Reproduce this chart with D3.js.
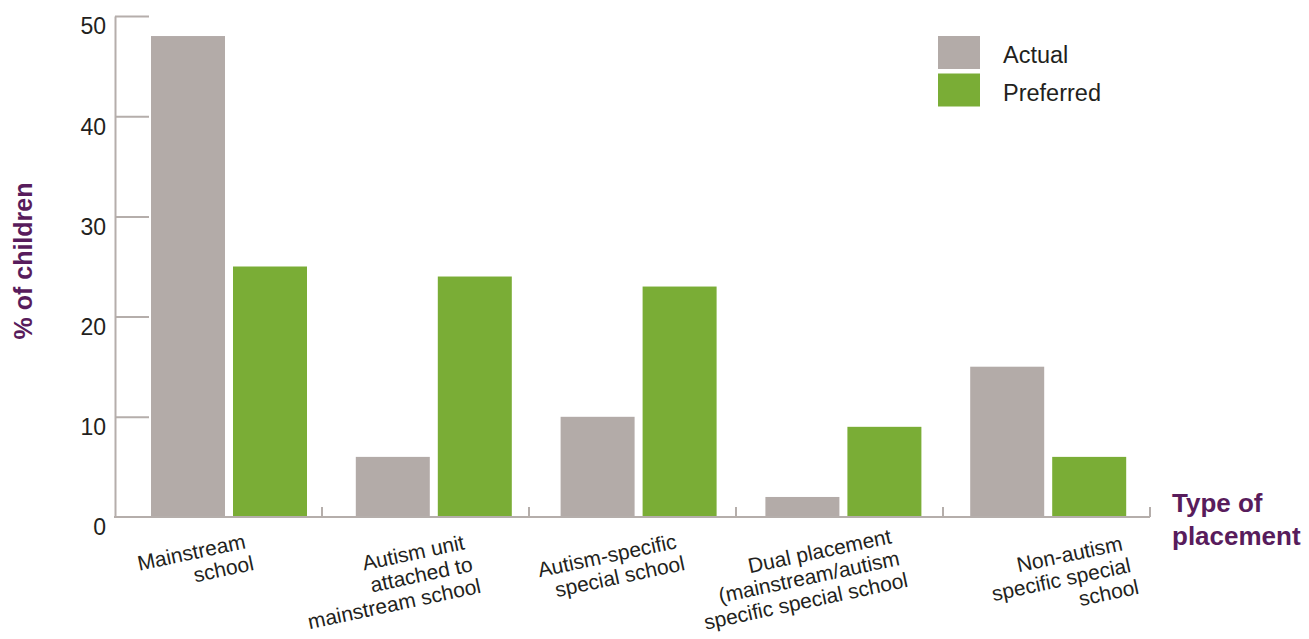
<!DOCTYPE html>
<html>
<head>
<meta charset="utf-8">
<script src="https://cdn.jsdelivr.net/npm/d3@7"></script>
<style>
  html, body { margin: 0; padding: 0; background: #ffffff; }
  svg { display: block; }
  text { font-family: "Liberation Sans", Arial, Helvetica, sans-serif; }
</style>
</head>
<body>
<svg id="chart" width="1309" height="639"></svg>
<script>
// ---- data ----
const categories = [
  "Mainstream school",
  "Autism unit attached to mainstream school",
  "Autism-specific special school",
  "Dual placement (mainstream/autism specific special school",
  "Non-autism specific special school"
];
const categoryLines = [
  ["Mainstream", "school"],
  ["Autism unit", "attached to", "mainstream school"],
  ["Autism-specific", "special school"],
  ["Dual placement", "(mainstream/autism", "specific special school"],
  ["Non-autism", "specific special", "school"]
];
const seriesNames = ["Actual", "Preferred"];
const actualValues = [48, 6, 10, 2, 15];
const preferredValues = [25, 24, 23, 9, 6];
const yTickValues = [0, 10, 20, 30, 40, 50];
const yAxisTitle = "% of children";
const xAxisTitleLines = ["Type of", "placement"];

// ---- layout / style (not data) ----
const colors = { Actual: "#b3aba8", Preferred: "#7aad36" };
const axisColor = "#b5aeab";
const textColor = "#231f20";
const purple = "#581c5c";
const labelShift = [28, 40, 45, 53, 77]; // end of first label line, relative to axis band centre
const labelBaseline = [548, 549, 548, 543, 550];

const svg = d3.select("#chart");

// axis band scale (separators) and bar band scale
const xAxisScale = d3.scaleBand().domain(categories).range([115, 1150]);
const x = d3.scaleBand().domain(categories).range([115, 1139]);
const xs = d3.scaleBand().domain(seriesNames).range([36, 192]).paddingInner(0.0976).paddingOuter(0);
const y = d3.scaleLinear().domain([0, 50]).range([517, 16]);

const rows = categories.map((c, i) => ({ cat: c, Actual: actualValues[i], Preferred: preferredValues[i] }));

// bars
const groups = svg.append("g").selectAll("g").data(rows).join("g")
  .attr("transform", d => `translate(${x(d.cat)},0)`);
groups.selectAll("rect").data(d => seriesNames.map(s => ({ s, v: d[s] }))).join("rect")
  .attr("x", d => xs(d.s))
  .attr("width", xs.bandwidth())
  .attr("y", d => y(d.v))
  .attr("height", d => y(0) - y(d.v))
  .attr("fill", d => colors[d.s]);

// y axis
const yAxis = svg.append("g").attr("transform", "translate(115,0)")
  .call(d3.axisLeft(y).tickValues(yTickValues).tickSize(-34).tickSizeOuter(0).tickPadding(9).tickFormat(d3.format("d")));
yAxis.select(".domain").attr("stroke", axisColor).attr("stroke-width", 2);
yAxis.selectAll(".tick line").attr("stroke", axisColor).attr("stroke-width", 2)
  .filter(d => d === 0).remove();
yAxis.selectAll(".tick text").attr("fill", textColor).attr("font-size", 23)
  .attr("dy", "0.78em").attr("font-family", "Liberation Sans, Arial, sans-serif");

// x axis
const xAxisG = svg.append("g").attr("transform", `translate(0,${y(0)})`);
xAxisG.append("line").attr("x1", 114).attr("x2", 1150).attr("y1", 0).attr("y2", 0)
  .attr("stroke", axisColor).attr("stroke-width", 2);
xAxisG.selectAll("line.sep").data(categories).join("line").attr("class", "sep")
  .attr("x1", d => xAxisScale(d) + xAxisScale.bandwidth()).attr("x2", d => xAxisScale(d) + xAxisScale.bandwidth())
  .attr("y1", 0).attr("y2", -10)
  .attr("stroke", axisColor).attr("stroke-width", 2);

// category labels
const lab = svg.append("g").selectAll("text").data(categories).join("text")
  .attr("transform", (d, i) => `translate(${xAxisScale(d) + xAxisScale.bandwidth() / 2 + labelShift[i]},${labelBaseline[i]}) rotate(-12)`)
  .attr("text-anchor", "end")
  .attr("font-size", 21)
  .attr("fill", textColor);
lab.each(function(d, i) {
  d3.select(this).selectAll("tspan").data(categoryLines[i]).join("tspan")
    .attr("x", (t, j) => j * 3.5).attr("dy", (t, j) => j === 0 ? 0 : 23).text(t => t);
});

// y title
svg.append("text")
  .attr("transform", "translate(32,261) rotate(-90)")
  .attr("text-anchor", "middle")
  .attr("font-size", 25).attr("font-weight", "bold")
  .attr("fill", purple).text(yAxisTitle);

// x title
svg.append("text").attr("font-size", 26).attr("font-weight", "bold").attr("fill", purple)
  .selectAll("tspan").data(xAxisTitleLines).join("tspan")
  .attr("x", 1172).attr("y", (d, i) => 512 + i * 33).text(d => d);

// legend
const legend = svg.append("g").selectAll("g").data(seriesNames).join("g")
  .attr("transform", (d, i) => `translate(938,${36 + i * 37.5})`);
legend.append("rect").attr("width", 42).attr("height", 33).attr("fill", d => colors[d]);
legend.append("text").attr("x", 65).attr("y", 27).attr("font-size", 23.5).attr("fill", textColor).text(d => d);
</script>
</body>
</html>
